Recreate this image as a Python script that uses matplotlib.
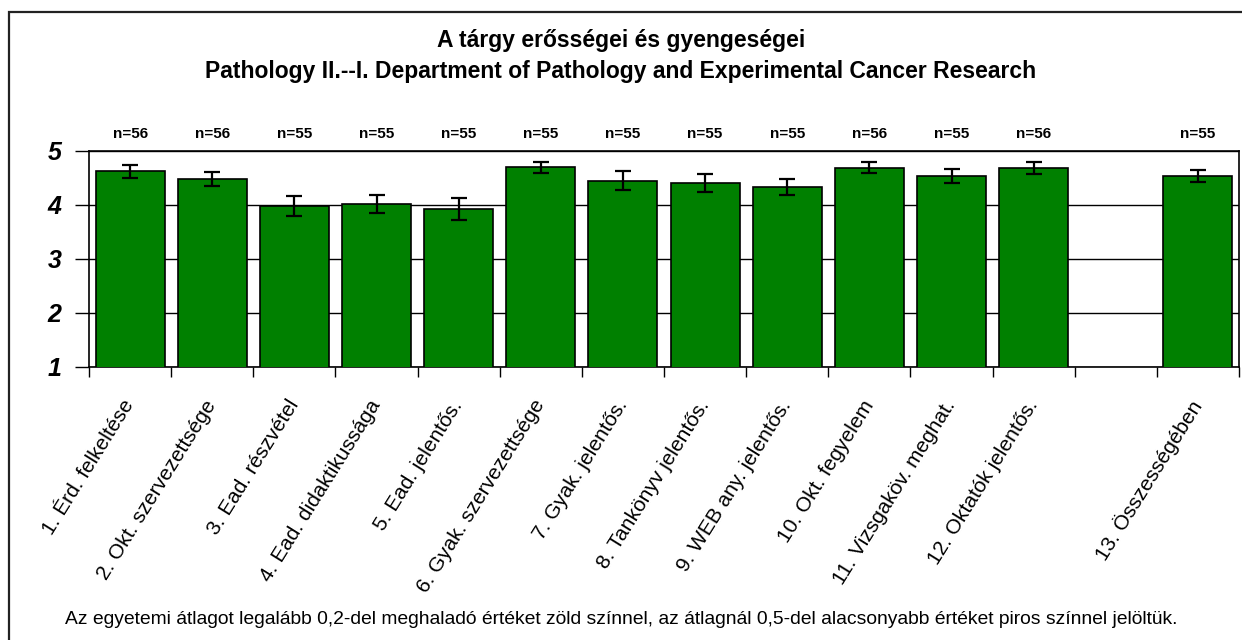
import matplotlib
matplotlib.use("Agg")
import matplotlib.pyplot as plt
import numpy as np
from matplotlib.patches import Rectangle
from matplotlib.ticker import FixedLocator

plt.rcParams["font.family"] = ["Liberation Sans", "DejaVu Sans"]

# ── Data ──────────────────────────────────────────────────────────────────────
categories = [
    "1. Érd. felkeltése", "2. Okt. szervezettsége", "3. Ead. részvétel",
    "4. Ead. didaktikussága", "5. Ead. jelentős.", "6. Gyak. szervezettsége",
    "7. Gyak. jelentős.", "8. Tankönyv jelentős.", "9. WEB any. jelentős.",
    "10. Okt. fegyelem", "11. Vizsgaköv. meghat.", "12. Oktatók jelentős.",
    "", "13. Összességében",
]
means = [4.62, 4.48, 3.98, 4.02, 3.92, 4.70, 4.45, 4.41, 4.33, 4.69, 4.54, 4.69,
         np.nan, 4.54]
errors = [0.12, 0.13, 0.19, 0.17, 0.20, 0.10, 0.18, 0.17, 0.15, 0.10, 0.13, 0.11,
          np.nan, 0.11]
n_labels = ["n=56", "n=56", "n=55", "n=55", "n=55", "n=55", "n=55", "n=55",
            "n=55", "n=56", "n=55", "n=56", "", "n=55"]

TITLE = "A tárgy erősségei és gyengeségei\nPathology II.--I. Department of Pathology and Experimental Cancer Research"
NOTE = ("Az egyetemi átlagot legalább 0,2-del meghaladó értéket zöld színnel, "
        "az átlagnál 0,5-del alacsonyabb értéket piros színnel jelöltük.")

# ── Canvas ────────────────────────────────────────────────────────────────────
fig = plt.figure(figsize=(12.42, 6.40), dpi=100)
fig.patch.set_facecolor("white")
ax = fig.add_axes([0.0717, 0.4266, 0.9259, 0.3375])

x = np.arange(1, len(categories) + 1)
ax.bar(x, means, width=0.84, color="#008000", edgecolor="black",
       linewidth=1.2, zorder=3)
ax.errorbar(x, means, yerr=errors, fmt="none", ecolor="black", elinewidth=1.6,
            capsize=5.5, capthick=1.6, zorder=4)

ax.set_xlim(0.5, len(categories) + 0.5)
ax.set_ylim(1, 5)
ax.set_yticks([1, 2, 3, 4, 5])
ax.yaxis.grid(True, color="black", lw=1.0, zorder=0)
ax.set_axisbelow(True)
for s in ax.spines.values():
    s.set_color("black")
    s.set_linewidth(1.2)

ax.tick_params(axis="y", direction="out", length=10, width=1.0, pad=10)
for lab in ax.get_yticklabels():
    lab.set_fontsize(18)
    lab.set_fontweight("bold")
    lab.set_fontstyle("italic")

ax.set_xticks(x)
ax.set_xticklabels(categories, rotation=58, ha="right", va="center",
                   rotation_mode="anchor", fontsize=15)
ax.tick_params(axis="x", which="major", length=0, pad=25)
ax.xaxis.set_minor_locator(FixedLocator(np.arange(0.5, len(categories) + 1, 1.0)))
ax.tick_params(axis="x", which="minor", direction="out", length=7, width=1.0)

# n= labels above the plot area
for xi, lbl in zip(x, n_labels):
    ax.text(xi, 5 + 17 / 54, lbl, ha="center", va="center", fontsize=11,
            fontweight="bold", clip_on=False)

# Title and note
fig.text(0.5, 1 - 56 / 640, TITLE, ha="center", va="center", fontsize=16.5,
         fontweight="bold", linespacing=1.45)
fig.text(0.5, 1 - 619 / 640, NOTE, ha="center", va="center", fontsize=13.9)

# Outer chart-area border (only left and top visible)
fig.patches.append(Rectangle((9 / 1242, -0.1), 1.2, 1 - 12 / 640 + 0.1,
                             transform=fig.transFigure, fill=False,
                             edgecolor="#222222", lw=1.6, clip_on=False))

fig.savefig("out.png", dpi=100, facecolor="white")
plt.close(fig)
